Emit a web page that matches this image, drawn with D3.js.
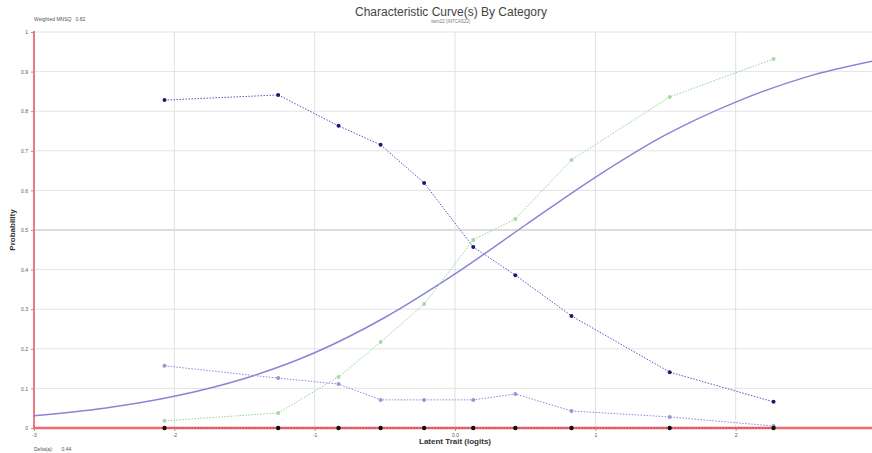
<!DOCTYPE html>
<html><head><meta charset="utf-8">
<script src="https://cdn.jsdelivr.net/npm/d3@7"></script>
<style>body{margin:0;background:#fff;overflow:hidden}svg{display:block}text{font-family:Arial,"Liberation Sans",sans-serif}</style>
</head><body><svg id="c" width="872" height="453"></svg>
<script>
const title = "Characteristic Curve(s) By Category";
const subtitle = "item22 (INTCAS22)";
const mnsqLabel = "Weighted MNSQ   0.82";
const deltaLabel = "Delta(a):      0.44";
const xTickValues = [-3, -2, -1, 0, 1, 2];
const xTickLabels = ["-3", "-2", "-1", "0.0", "1", "2"];
const yTickValues = [0, 0.1, 0.2, 0.3, 0.4, 0.5, 0.6, 0.7, 0.8, 0.9, 1];
const yTickLabels = ["0", "0.1", "0.2", "0.3", "0.4", "0.5", "0.6", "0.7", "0.8", "0.9", "1"];
// observed group locations (logits)
const groupX = [-2.07, -1.26, -0.83, -0.53, -0.22, 0.13, 0.43, 0.83, 1.53, 2.27];
const cat0 = [0.828, 0.841, 0.763, 0.715, 0.619, 0.457, 0.386, 0.283, 0.141, 0.066];
const cat1 = [0.157, 0.126, 0.111, 0.071, 0.071, 0.071, 0.086, 0.043, 0.028, 0.005];
const cat2 = [0.018, 0.038, 0.129, 0.217, 0.313, 0.475, 0.528, 0.677, 0.836, 0.932];
// model (expected) curve
const curveX = [-3, -2.5, -2, -1.5, -1, -0.5, 0, 0.5, 1, 1.5, 2, 2.5, 3];
const curveY = [0.031, 0.050, 0.080, 0.125, 0.190, 0.279, 0.389, 0.512, 0.633, 0.740, 0.823, 0.886, 0.928];

const svg = d3.select("#c");
const x = d3.scaleLinear().domain([-3, 3]).range([34, 876]);
const y = d3.scaleLinear().domain([0, 1]).range([428, 32]);

// grid
svg.append("g").selectAll("line").data(yTickValues.slice(1)).join("line")
  .attr("x1", 34).attr("x2", 872).attr("y1", d => y(d)).attr("y2", d => y(d))
  .attr("stroke", d => d === 0.5 ? "#bbbbbb" : "#e4e4e4").attr("stroke-width", 1);
svg.append("g").selectAll("line").data(xTickValues.slice(1)).join("line")
  .attr("x1", d => x(d)).attr("x2", d => x(d)).attr("y1", 32).attr("y2", 428)
  .attr("stroke", "#e0e0e0").attr("stroke-width", 1);

// y axis
const yAxis = d3.axisLeft(y).tickValues(yTickValues).tickFormat((d, i) => yTickLabels[i]).tickSize(3).tickPadding(3);
const gy = svg.append("g").attr("transform", "translate(34,0)").call(yAxis);
gy.select(".domain").remove();
gy.selectAll(".tick line").attr("stroke", "#999");
gy.selectAll(".tick text").attr("font-size", 5).attr("fill", "#555");
svg.append("line").attr("x1", 34).attr("x2", 34).attr("y1", 31).attr("y2", 429)
  .attr("stroke", "#e87a80").attr("stroke-width", 2);

// x axis
const xAxis = d3.axisBottom(x).tickValues(xTickValues).tickFormat((d, i) => xTickLabels[i]).tickSize(3).tickPadding(2);
const gx = svg.append("g").attr("transform", "translate(0,428)").call(xAxis);
gx.select(".domain").remove();
gx.selectAll(".tick line").attr("stroke", "#999");
gx.selectAll(".tick text").attr("font-size", 5).attr("fill", "#555");
svg.append("line").attr("x1", 33).attr("x2", 872).attr("y1", 428).attr("y2", 428)
  .attr("stroke", "#f06a70").attr("stroke-width", 2.5);

// model curve
svg.append("path").datum(curveX.map((d, i) => [d, curveY[i]]))
  .attr("d", d3.line().x(d => x(d[0])).y(d => y(d[1])).curve(d3.curveMonotoneX))
  .attr("fill", "none").attr("stroke", "#8a84d8").attr("stroke-width", 1.5);

// observed series
const series = [
  {vals: cat2, line: "#8fd68f", pt: "#a8d8a8"},
  {vals: cat1, line: "#8c88dc", pt: "#9a96d6"},
  {vals: cat0, line: "#5a56c8", pt: "#1c1a70"}
];
const line = d3.line().x(d => x(d[0])).y(d => y(d[1]));
series.forEach(s => {
  const data = groupX.map((g, i) => [g, s.vals[i]]);
  svg.append("path").datum(data).attr("d", line).attr("fill", "none")
    .attr("stroke", s.line).attr("stroke-width", 1).attr("stroke-dasharray", "1.5,1.5");
  svg.append("g").selectAll("circle").data(data).join("circle")
    .attr("cx", d => x(d[0])).attr("cy", d => y(d[1])).attr("r", 2).attr("fill", s.pt);
});

// group markers on x axis
svg.append("path").datum(groupX).attr("d", d3.line().x(d => x(d)).y(() => y(0)))
  .attr("stroke", "#b04050").attr("stroke-width", 1).attr("stroke-dasharray", "1.5,1.5").attr("fill", "none");
svg.append("g").selectAll("circle").data(groupX).join("circle")
  .attr("cx", d => x(d)).attr("cy", y(0)).attr("r", 2.2).attr("fill", "#111");

// texts
svg.append("text").attr("x", 451).attr("y", 16).attr("text-anchor", "middle")
  .attr("font-size", 12).attr("fill", "#444").text(title);
svg.append("text").attr("x", 451).attr("y", 23).attr("text-anchor", "middle")
  .attr("font-size", 4.5).attr("fill", "#777").text(subtitle);
svg.append("text").attr("x", 34).attr("y", 21).attr("font-size", 5).attr("fill", "#555").text(mnsqLabel).attr("xml:space", "preserve");
svg.append("text").attr("x", 34).attr("y", 451).attr("font-size", 5).attr("fill", "#555").text(deltaLabel).attr("xml:space", "preserve");
svg.append("text").attr("transform", "translate(15,230) rotate(-90)").attr("text-anchor", "middle")
  .attr("font-size", 8).attr("font-weight", "bold").attr("fill", "#333").text("Probability");
svg.append("text").attr("x", 455).attr("y", 444).attr("text-anchor", "middle")
  .attr("font-size", 8).attr("font-weight", "bold").attr("fill", "#333").text("Latent Trait (logits)");
</script></body></html>
